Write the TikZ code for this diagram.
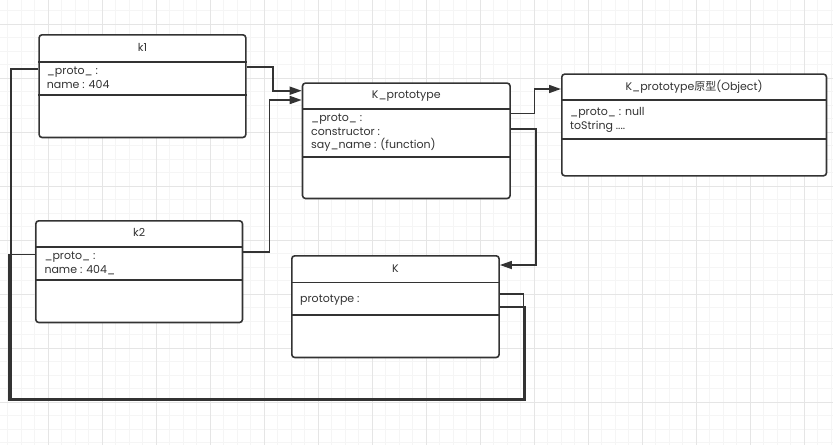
\documentclass[tikz,border=0pt]{standalone}
\usepackage{fontspec}
\setmainfont{Poppins}
\newfontfamily\cjk{Noto Sans CJK SC}
\usetikzlibrary{arrows.meta}
\definecolor{cLine}{RGB}{51,51,51}
\definecolor{cGridMinor}{RGB}{245,245,245}
\definecolor{cGridMajor}{RGB}{229,229,229}
\tikzset{
	umlbox/.style={draw=cLine, line width=1.6pt, rounded corners=3pt, fill=white, inner sep=0pt, anchor=north west},
	sepline/.style={draw=cLine, line width=1.6pt},
	boxtitle/.style={font=\fontsize{11}{13}\selectfont, text=cLine, anchor=base, inner sep=0pt},
	attr/.style={font=\fontsize{11}{13}\selectfont, text=cLine, anchor=base west, inner sep=0pt},
	link/.style={draw=cLine, line width=1.6pt},
	flowarrow/.style={link, -{Triangle[length=12pt, width=8pt]}},
	gridminor/.style={draw=cGridMinor, line width=0.8pt},
	gridmajor/.style={draw=cGridMajor, line width=0.8pt},
}

\begin{document}
\begin{tikzpicture}[x=1pt, y=-1pt]
	\useasboundingbox[fill=white] (0,0) rectangle (833,445);
	% grid
	\foreach \gx in {7.8,21.3,...,833} \draw[gridminor] (\gx,0) -- (\gx,445);
	\foreach \gy in {10.8,24.3,...,445} \draw[gridminor] (0,\gy) -- (833,\gy);
	\foreach \gx in {48.3,102.3,...,833} \draw[gridmajor] (\gx,0) -- (\gx,445);
	\foreach \gy in {24.3,78.3,...,445} \draw[gridmajor] (0,\gy) -- (833,\gy);

	% boxes
	\node[umlbox, minimum width=206.7pt, minimum height=102.7pt] (k1) at (38.3,34) {};
	\node[umlbox, minimum width=207.6pt, minimum height=115.4pt] (kproto) at (301.7,82.3) {};
	\node[umlbox, minimum width=264.7pt, minimum height=101.7pt] (obj) at (561,73.3) {};
	\node[umlbox, minimum width=206.7pt, minimum height=101.7pt] (k2) at (35,220) {};
	\node[umlbox, minimum width=207.3pt, minimum height=101.7pt] (K) at (291,255) {};

	\foreach \bx/\ya/\yb in {k1/61.7/95, kproto/109/156.7, obj/100/139, k2/246.7/280, K/282.3/315} {
		\draw[sepline] (\bx.west |- 0,\ya) -- (\bx.east |- 0,\ya);
		\draw[sepline] (\bx.west |- 0,\yb) -- (\bx.east |- 0,\yb);
	}

	% texts
	\node[boxtitle] (k1t) at (k1.north |- 0,51.5) {k1};
	\node[attr] (k1a) at (46.7,74.5) {\_proto\_ :};
	\node[attr] (k1b) at (46.7,88) {name : 404};

	\node[boxtitle] (kprotot) at (kproto.north |- 0,98) {K\_prototype};
	\node[attr] (kprotoa) at (311,121.5) {\_proto\_ :};
	\node[attr] (kprotob) at (311,135) {constructor :};
	\node[attr] (kprotoc) at (311,148.5) {say\_name : (function)};

	\node[boxtitle] (objt) at (obj.north |- 0,90) {K\_prototype{\cjk 原型}(Object)};
	\node[attr] (obja) at (570,115.5) {\_proto\_ : null};
	\node[attr] (objb) at (570,129) {toString ....};

	\node[boxtitle] (k2t) at (k2.north |- 0,236.5) {k2};
	\node[attr] (k2a) at (44.3,259.5) {\_proto\_ :};
	\node[attr] (k2b) at (44.3,273) {name : 404\_};

	\node[boxtitle] (Kt) at (K.north |- 0,272.5) {K};
	\node[attr] (Ka) at (300,302) {prototype :};

	% links
	\draw[link] (k1.west |- 0,69) -| (11,398.5) -| (523.6,294) -- (K.east |- 0,294);
	\draw[link] (k2.west |- 0,254.3) -| (9.2,400) -| (524.9,306.7) -- (K.east |- 0,306.7);

	% arrows
	\draw[flowarrow] (k1.east |- 0,66.7) -- (272.7,66.7) |- (kproto.west |- 0,90.7);
	\draw[flowarrow] (k2.east |- 0,251.7) -- (269.3,251.7) |- (kproto.west |- 0,100);
	\draw[flowarrow] (kproto.east |- 0,113.3) -- (534.3,113.3) |- (obj.west |- 0,89);
	\draw[flowarrow] (kproto.east |- 0,129) -- (535.7,129) |- (K.east |- 0,265);
\end{tikzpicture}
\end{document}
